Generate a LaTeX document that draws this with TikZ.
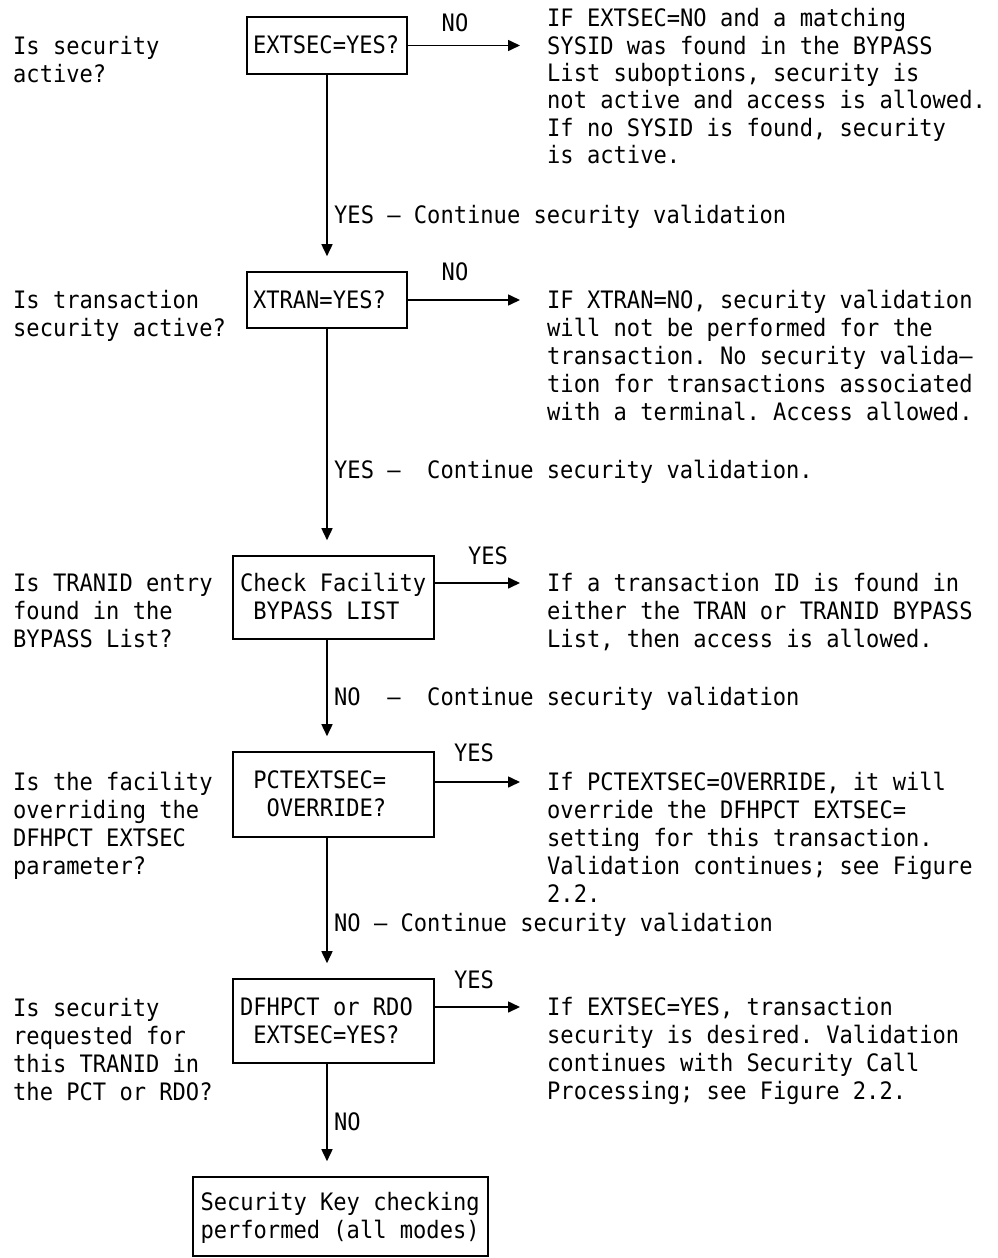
\documentclass[tikz,border=0pt]{standalone}
\usepackage{fontspec}
\usetikzlibrary{arrows.meta}
\newfontfamily\flowmono[FakeStretch=0.92]{DejaVu Sans Mono}
% line strut: 22pt above the baseline, 6pt below, one 28pt line in all;
% it also restores the font's own word space inside ragged boxes
\newcommand{\lnst}{\spaceskip=0pt\xspaceskip=0pt\relax\rule[-6pt]{0pt}{28pt}}
% one empty character cell of the monospaced font
\newcommand{\blank}{\hphantom{X}}
\begin{document}
\frenchspacing
\begin{tikzpicture}[x=1pt,y=-1pt,
  every node/.style={font=\flowmono\fontsize{24}{28}\selectfont, inner sep=0pt},
  box/.style={draw, line width=1.6pt, align=left, inner ysep=0pt},
  txt/.style={align=left, anchor=north west},
  lbl/.style={anchor=west},
  arr/.style={line width=1.6pt, -{Triangle[length=12pt,width=11pt]}},
  down/.style={arr, shorten >=15pt}]
\useasboundingbox (0,0) rectangle (997,1258);

% decision boxes on the main axis
\node[box, text width=148pt, inner xsep=6pt, minimum height=57pt] (b1) at (327,45.5)
  {\lnst EXTSEC=YES?};
\node[box, text width=148pt, inner xsep=6pt, minimum height=56pt] (b2) at (327,300)
  {\lnst XTRAN=YES?};
\node[box, text width=187pt, inner xsep=7pt, minimum height=83pt] (b3) at (333.5,597.5)
  {\lnst Check Facility\\\lnst\blank BYPASS LIST};
\node[box, text width=187pt, inner xsep=7pt, minimum height=85pt] (b4) at (333.5,794.5)
  {\lnst\blank PCTEXTSEC=\\\lnst\blank\blank OVERRIDE?};
\node[box, text width=187pt, inner xsep=7pt, minimum height=84pt] (b5) at (333.5,1021)
  {\lnst DFHPCT or RDO\\\lnst\blank EXTSEC=YES?};
\node[box, text width=280pt, inner xsep=7.5pt, minimum height=79pt] (b6) at (340.5,1216.5)
  {\lnst Security Key checking\\\lnst performed (all modes)};

% questions on the left
\node[txt] (q1) at (13,32) {\lnst Is security\\\lnst active?};
\node[txt] (q2) at (13,286) {\lnst Is transaction\\\lnst security active?};
\node[txt] (q3) at (13,569) {\lnst Is TRANID entry\\\lnst found in the\\\lnst BYPASS List?};
\node[txt] (q4) at (13,768) {\lnst Is the facility\\\lnst overriding the\\\lnst DFHPCT EXTSEC\\\lnst parameter?};
\node[txt] (q5) at (13,994) {\lnst Is security\\\lnst requested for\\\lnst this TRANID in\\\lnst the PCT or RDO?};

% explanations on the right
\node[txt, font=\flowmono\fontsize{24}{27.4}\selectfont] (r1) at (547,4.5)
  {\lnst IF EXTSEC=NO and a matching\\
  SYSID was found in the BYPASS\\
  List suboptions, security is\\
  not active and access is allowed.\\
  If no SYSID is found, security\\
  is active.};
\node[txt] (r2) at (547,286) {\lnst IF XTRAN=NO, security validation\\
  \lnst will not be performed for the\\
  \lnst transaction. No security valida—\\
  \lnst tion for transactions associated\\
  \lnst with a terminal. Access allowed.};
\node[txt] (r3) at (547,569) {\lnst If a transaction ID is found in\\
  \lnst either the TRAN or TRANID BYPASS\\
  \lnst List, then access is allowed.};
\node[txt] (r4) at (547,768) {\lnst If PCTEXTSEC=OVERRIDE, it will\\
  \lnst override the DFHPCT EXTSEC=\\
  \lnst setting for this transaction.\\
  \lnst Validation continues; see Figure\\
  \lnst 2.2.};
\node[txt] (r5) at (547,993) {\lnst If EXTSEC=YES, transaction\\
  \lnst security is desired. Validation\\
  \lnst continues with Security Call\\
  \lnst Processing; see Figure 2.2.};

% branch labels
\node (n1) at (455,23) {\lnst NO};
\node (n2) at (455,272) {\lnst NO};
\node (y3) at (488,556) {\lnst YES};
\node (y4) at (474,753) {\lnst YES};
\node (y5) at (474,980) {\lnst YES};

\node[lbl] (v1) at (334,215) {\lnst YES — Continue security validation};
\node[lbl] (v2) at (334,470) {\lnst YES —\blank\blank Continue security validation.};
\node[lbl] (v3) at (334,697) {\lnst NO\blank\blank —\blank\blank Continue security validation};
\node[lbl] (v4) at (334,923) {\lnst NO — Continue security validation};
\node[lbl] (v5) at (334,1122) {\lnst NO};

% main axis and arrow ends of the side branches
\coordinate (axis) at (327,0);
\coordinate (t1) at (520,45.5);
\coordinate (t2) at (520,300);
\coordinate (t3) at (520,583);
\coordinate (t4) at (520,782);
\coordinate (t5) at (520,1007);

% downward flow
\draw[down] (b1.south) -- (b2.north);
\draw[down] (b2.south) -- (b3.north -| axis);
\draw[down] (b3.south -| axis) -- (b4.north -| axis);
\draw[down] (b4.south -| axis) -- (b5.north -| axis);
\draw[down] (b5.south -| axis) -- (b6.north -| axis);

% side branches
\draw[arr] (t1 -| b1.east) -- (t1);
\draw[arr] (t2 -| b2.east) -- (t2);
\draw[arr] (t3 -| b3.east) -- (t3);
\draw[arr] (t4 -| b4.east) -- (t4);
\draw[arr] (t5 -| b5.east) -- (t5);
\end{tikzpicture}
\end{document}
